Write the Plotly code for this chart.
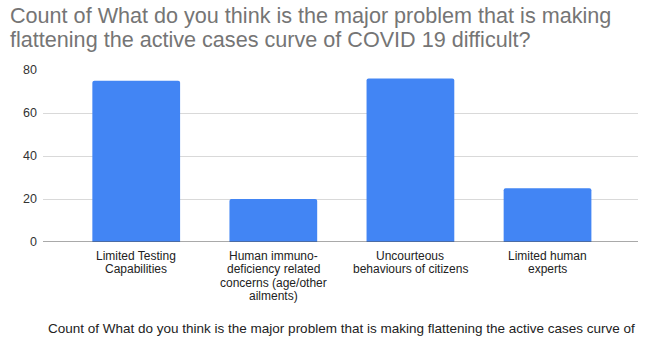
import plotly.graph_objects as go

categories = [
    "Limited Testing<br>Capabilities",
    "Human immuno-<br>deficiency related<br>concerns (age/other<br>ailments)",
    "Uncourteous<br>behaviours of citizens",
    "Limited human<br>experts",
]
counts = [75, 20, 76, 25]
y_ticks = [0, 20, 40, 60, 80]

title_lines = [
    "Count of What do you think is the major problem that is making",
    "flattening the active cases curve of COVID 19 difficult?",
]
axis_caption = ("Count of What do you think is the major problem that is making "
                "flattening the active cases curve of")

FONT = "Liberation Sans, Arial, sans-serif"
L, R, T, B = 43, 15, 70, 97
W, H = 653, 339
PW = W - L - R


def px_to_paper_x(px):
    return (px - L) / PW


fig = go.Figure(
    go.Bar(
        x=list(range(len(categories))),
        y=counts,
        marker=dict(color="#4285f4", cornerradius=2, line=dict(width=0)),
        width=0.64,
        hoverinfo="skip",
    )
)

annotations = []

# two-line title with tight line spacing
for i, line in enumerate(title_lines):
    annotations.append(dict(
        text=line, xref="paper", yref="paper",
        x=px_to_paper_x(8), y=1, xanchor="left", yanchor="middle",
        yshift=T - (15.5 + i * 24.2), showarrow=False,
        font=dict(size=21.6, color="#757575", family=FONT),
    ))

# category labels, one annotation per line, centred under each bar
for ci, name in enumerate(categories):
    for li, line in enumerate(name.split("<br>")):
        annotations.append(dict(
            text=line, xref="x", yref="paper",
            x=ci, y=0, xanchor="center", yanchor="middle",
            yshift=-(13.5 + li * 13.5), showarrow=False,
            font=dict(size=12, color="#222222", family=FONT),
        ))

# axis caption under the category labels
annotations.append(dict(
    text=axis_caption, xref="paper", yref="paper",
    x=px_to_paper_x(46), y=0, xanchor="left", yanchor="middle",
    yshift=-(328 - (H - B)), showarrow=False,
    font=dict(size=13.5, color="#222222", family=FONT),
))

fig.update_layout(
    width=W,
    height=H,
    margin=dict(l=L, r=R, t=T, b=B),
    paper_bgcolor="white",
    plot_bgcolor="white",
    font=dict(family=FONT, color="#222222", size=12),
    showlegend=False,
    xaxis=dict(
        range=[-0.68, 3.66],
        showgrid=False,
        showline=False,
        zeroline=False,
        showticklabels=False,
        ticks="",
        fixedrange=True,
    ),
    yaxis=dict(
        range=[0, 80],
        tickvals=y_ticks,
        showgrid=True,
        gridcolor="#d9d9d9",
        gridwidth=1,
        zeroline=False,
        showline=False,
        ticks="",
        ticklabelstandoff=5,
        tickfont=dict(size=12.5, color="#333333", family=FONT),
        fixedrange=True,
    ),
    shapes=[
        dict(type="line", xref="paper", yref="y", x0=0, x1=1, y0=0, y1=0,
             line=dict(color="#555555", width=1.2)),
    ],
    annotations=annotations,
)

fig.write_html("out.html")
